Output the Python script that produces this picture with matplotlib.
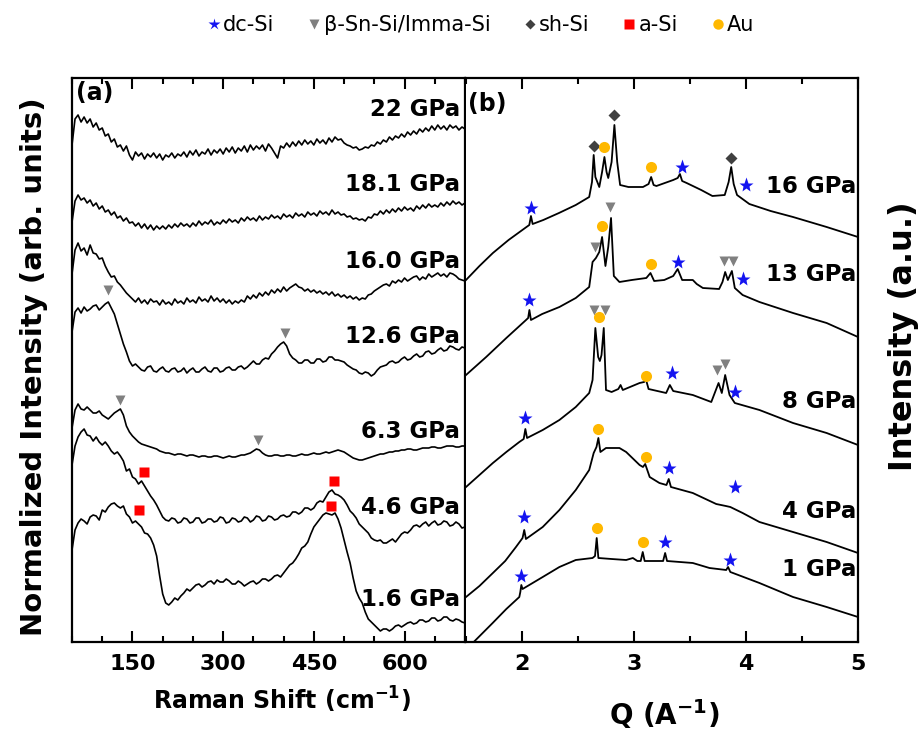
import numpy as np
import matplotlib
matplotlib.use("Agg")
import matplotlib.pyplot as plt
from matplotlib.lines import Line2D
from matplotlib.ticker import MultipleLocator

plt.rcParams["font.family"] = ["DejaVu Sans"]
plt.rcParams["font.weight"] = "bold"
plt.rcParams["axes.labelweight"] = "bold"
plt.rcParams["mathtext.default"] = "bf"

# ---------------- (a) Raman spectra (offset, arb. units) ----------------
raman_shift = np.arange(50, 701, 5)

raman_22_0 = [497, 523, 527, 520, 525, 519, 523, 515, 519, 512,
              514, 506, 508, 500, 503, 495, 497, 491, 496, 487,
              482, 490, 486, 489, 483, 488, 485, 489, 484, 488,
              482, 487, 485, 489, 484, 488, 486, 490, 485, 491,
              487, 492, 486, 490, 488, 493, 487, 492, 489, 493,
              488, 494, 490, 495, 489, 494, 491, 496, 490, 497,
              492, 496, 493, 497, 491, 498, 494, 489, 484, 496,
              494, 499, 495, 500, 496, 501, 497, 502, 498, 501,
              497, 503, 499, 502, 498, 504, 500, 505, 502, 503,
              499, 497, 496, 494, 495, 492, 493, 495, 494, 497,
              496, 500, 498, 502, 500, 505, 502, 506, 504, 508,
              505, 510, 507, 511, 508, 513, 510, 514, 511, 516,
              512, 517, 513, 516, 512, 517, 514, 516, 512, 515,
              513]
raman_18_1 = [420, 441, 447, 442, 444, 439, 442, 436, 439, 433,
              436, 430, 432, 427, 430, 424, 426, 421, 424, 419,
              420, 416, 419, 414, 418, 413, 417, 412, 416, 413,
              416, 413, 417, 414, 418, 415, 419, 416, 418, 415,
              419, 416, 421, 417, 420, 418, 422, 417, 420, 418,
              422, 419, 423, 420, 422, 419, 424, 421, 425, 422,
              424, 421, 426, 422, 425, 423, 427, 424, 426, 423,
              428, 425, 427, 424, 429, 426, 428, 425, 430, 427,
              429, 426, 431, 428, 430, 427, 432, 428, 430, 427,
              428, 425, 426, 423, 424, 422, 423, 421, 425, 424,
              428, 427, 431, 428, 432, 429, 433, 430, 434, 431,
              435, 432, 434, 431, 436, 433, 437, 434, 438, 435,
              437, 435, 439, 436, 440, 437, 441, 438, 440, 437,
              439]
raman_16_0 = [368, 392, 399, 391, 394, 387, 397, 389, 388, 383,
              384, 376, 370, 365, 366, 360, 357, 353, 349, 346,
              343, 340, 344, 339, 342, 338, 343, 340, 341, 337,
              342, 338, 340, 337, 343, 339, 341, 338, 344, 340,
              342, 339, 345, 341, 343, 340, 346, 341, 344, 340,
              343, 339, 342, 338, 341, 339, 342, 340, 346, 343,
              347, 344, 349, 346, 350, 347, 352, 349, 353, 350,
              355, 351, 354, 356, 358, 355, 354, 351, 353, 350,
              352, 349, 351, 348, 350, 347, 350, 346, 348, 345,
              347, 344, 346, 343, 345, 342, 344, 343, 347, 348,
              351, 353, 355, 357, 358, 356, 361, 359, 362, 360,
              364, 361, 363, 365, 366, 362, 365, 363, 368, 365,
              367, 369, 366, 368, 365, 369, 368, 366, 363, 362,
              361]
raman_12_6 = [310, 330, 334, 329, 335, 331, 333, 336, 337, 332,
              335, 338, 340, 334, 328, 318, 308, 298, 290, 281,
              276, 278, 275, 272, 271, 275, 276, 271, 270, 273,
              275, 271, 270, 273, 274, 270, 271, 274, 269, 272,
              274, 270, 270, 273, 275, 271, 270, 274, 274, 270,
              271, 274, 275, 272, 272, 275, 276, 273, 275, 278,
              281, 278, 278, 282, 284, 283, 288, 291, 295, 298,
              300, 296, 288, 284, 282, 279, 279, 282, 282, 279,
              279, 283, 283, 280, 281, 285, 285, 282, 282, 281,
              280, 277, 275, 273, 272, 269, 268, 270, 269, 266,
              268, 272, 275, 276, 277, 280, 281, 279, 280, 283,
              285, 282, 283, 286, 288, 285, 286, 290, 291, 288,
              289, 292, 294, 291, 292, 296, 295, 293, 292, 295,
              294]
raman_6_3 = [214, 232, 238, 233, 232, 235, 232, 229, 229, 231,
             227, 225, 223, 226, 229, 231, 233, 227, 216, 210,
             206, 203, 200, 198, 197, 196, 195, 194, 193, 191,
             190, 189, 189, 188, 187, 188, 188, 187, 186, 187,
             187, 186, 185, 186, 186, 185, 185, 186, 186, 185,
             184, 185, 186, 185, 185, 186, 187, 187, 188, 189,
             191, 193, 192, 189, 187, 186, 186, 187, 187, 186,
             186, 187, 187, 186, 186, 187, 188, 187, 187, 188,
             189, 188, 188, 189, 190, 189, 190, 191, 192, 191,
             190, 188, 186, 184, 183, 182, 182, 183, 184, 185,
             186, 187, 188, 188, 189, 190, 190, 191, 191, 192,
             192, 193, 193, 192, 192, 193, 194, 194, 194, 195,
             195, 194, 194, 195, 196, 196, 196, 195, 195, 196,
             196]
raman_4_6 = [177, 196, 205, 210, 213, 207, 206, 201, 205, 200,
             197, 200, 196, 191, 188, 190, 186, 181, 171, 173,
             165, 163, 158, 161, 156, 151, 146, 142, 137, 131,
             125, 122, 121, 124, 123, 119, 120, 124, 123, 119,
             120, 124, 124, 119, 120, 123, 123, 120, 121, 125,
             124, 119, 120, 124, 123, 120, 121, 125, 124, 120,
             122, 126, 125, 121, 122, 126, 125, 122, 123, 126,
             127, 125, 126, 130, 130, 128, 130, 134, 134, 132,
             134, 139, 141, 140, 145, 150, 152, 148, 147, 145,
             142, 137, 131, 128, 124, 118, 115, 112, 109, 104,
             102, 101, 102, 99, 99, 101, 103, 100, 104, 108,
             110, 109, 112, 116, 117, 115, 118, 120, 116, 119,
             121, 117, 118, 121, 120, 116, 117, 120, 118, 114,
             115]
raman_1_6 = [92, 112, 119, 123, 121, 118, 125, 127, 126, 122,
             132, 130, 135, 138, 139, 136, 134, 136, 128, 125,
             119, 121, 118, 115, 109, 108, 104, 97, 86, 66,
             48, 39, 37, 40, 44, 42, 46, 49, 53, 51,
             54, 57, 58, 55, 57, 60, 61, 58, 62, 60,
             60, 63, 61, 58, 58, 61, 59, 56, 58, 60,
             61, 58, 60, 63, 63, 61, 63, 66, 67, 65,
             69, 73, 77, 79, 83, 88, 94, 96, 100, 108,
             115, 119, 123, 127, 129, 128, 127, 129, 123, 114,
             102, 90, 79, 64, 51, 44, 39, 30, 23, 20,
             17, 14, 11, 13, 13, 11, 13, 16, 17, 15,
             17, 19, 20, 18, 19, 22, 22, 20, 21, 24,
             24, 21, 22, 25, 25, 22, 21, 23, 22, 20,
             19]

raman_spectra = [raman_22_0, raman_18_1, raman_16_0, raman_12_6, raman_6_3, raman_4_6, raman_1_6]
raman_labels = ["22 GPa", "18.1 GPa", "16.0 GPa", "12.6 GPa", "6.3 GPa", "4.6 GPa", "1.6 GPa"]
raman_label_y = [532, 457, 380, 305, 210, 135, 42]

raman_bsn_x = [109, 403, 130, 357]
raman_bsn_y = [352, 309, 242, 202]
raman_asi_x = [169, 161, 484, 478]
raman_asi_y = [170, 132, 161, 136]

# ---------------- (b) XRD patterns (offset, a.u.) ----------------
q_16 = [1.50, 1.62, 1.74, 1.88, 2.04, 2.065, 2.08, 2.095, 2.19, 2.33, 2.48, 2.60, 2.625, 2.64,
        2.655, 2.69, 2.715, 2.736, 2.755, 2.77, 2.80, 2.825, 2.85, 2.876, 2.95, 3.08, 3.13,
        3.153, 3.175, 3.20, 3.35, 3.39, 3.41, 3.43, 3.47, 3.60, 3.70, 3.81, 3.845, 3.868,
        3.89, 3.92, 4.03, 4.22, 4.42, 4.72, 5.0]
i_16 = [362, 376, 389, 402, 415, 417, 426, 418, 422, 429, 437, 445, 460, 487,
        465, 455, 470, 485, 470, 464, 480, 517, 480, 457, 455, 455, 458,
        465, 457, 456, 462, 464, 468, 461, 459, 452, 446, 447, 460, 475,
        458, 447, 438, 431, 425, 415, 405]

q_13 = [1.50, 1.68, 1.86, 2.036, 2.055, 2.066, 2.08, 2.18, 2.334, 2.48, 2.60, 2.63, 2.66, 2.69,
        2.715, 2.745, 2.77, 2.795, 2.82, 2.87, 2.98, 3.11, 3.147, 3.18, 3.27, 3.35, 3.39, 3.43,
        3.525, 3.56, 3.615, 3.76, 3.79, 3.814, 3.838, 3.874, 3.90, 3.97, 4.12, 4.42, 4.72, 5.0]
i_13 = [267, 285, 304, 322, 324, 332, 322, 328, 335, 344, 355, 380, 384, 390,
        405, 376, 395, 424, 366, 360, 362, 364, 369, 361, 362, 366, 373, 362,
        362, 358, 354, 353, 360, 370, 362, 371, 354, 347, 340, 329, 319, 305]

q_8 = [1.50, 1.62, 1.74, 1.86, 1.976, 2.015, 2.03, 2.045, 2.185, 2.334, 2.48, 2.60, 2.63, 2.655,
       2.68, 2.695, 2.71, 2.73, 2.75, 2.80, 2.86, 2.88, 2.90, 3.05, 3.09, 3.108, 3.13, 3.287,
       3.32, 3.35, 3.525, 3.69, 3.755, 3.784, 3.814, 3.853, 3.90, 4.12, 4.42, 4.72, 5.0]
i_8 = [155, 167, 179, 190, 200, 203, 213, 204, 212, 222, 235, 249, 262, 314,
       285, 281, 287, 314, 252, 250, 253, 257, 252, 259, 260, 262, 253, 249,
       257, 251, 247, 240, 259, 249, 267, 247, 239, 232, 219, 209, 197]

q_4 = [1.50, 1.62, 1.74, 1.85, 1.946, 2.005, 2.02, 2.035, 2.185, 2.334, 2.48, 2.60, 2.64, 2.665,
       2.682, 2.70, 2.75, 2.87, 2.93, 3.05, 3.08, 3.10, 3.14, 3.227, 3.29, 3.31, 3.33, 3.525,
       3.734, 3.82, 3.86, 3.97, 4.12, 4.42, 4.72, 5.0]
i_4 = [45, 56, 69, 81, 95, 104, 112, 103, 115, 132, 152, 172, 189, 195,
       204, 190, 194, 194, 190, 177, 175, 178, 165, 159, 157, 163, 155, 149,
       138, 136, 135, 129, 120, 110, 100, 89]

q_1 = [1.56, 1.738, 1.86, 1.976, 1.985, 1.994, 2.005, 2.185, 2.334, 2.48, 2.63, 2.652, 2.667,
       2.682, 2.80, 2.93, 2.99, 3.03, 3.06, 3.078, 3.095, 3.26, 3.278, 3.295, 3.525, 3.674,
       3.823, 3.84, 3.86, 4.12, 4.42, 4.72, 5.0]
i_1 = [-1, 19, 33, 45, 50, 57, 53, 65, 75, 82, 84, 86, 104,
       84, 83, 82, 84, 81, 81, 90, 81, 81, 89, 81, 79, 74,
       72, 75, 70, 59, 45, 35, 25]

xrd_q = [q_16, q_13, q_8, q_4, q_1]
xrd_i = [i_16, i_13, i_8, i_4, i_1]
xrd_labels = ["16 GPa", "13 GPa", "8 GPa", "4 GPa", "1 GPa"]
xrd_label_y = [455, 367, 240, 130, 72]

dc_q = [2.08, 3.43, 3.996, 2.066, 3.39, 3.97, 2.03, 3.34, 3.906, 2.02, 3.31, 3.898, 1.994, 3.278, 3.853]
dc_y = [434, 475, 457, 342, 380, 363, 224, 269, 250, 125, 174, 155, 66, 100, 82]
bsn_q = [2.652, 2.79, 3.808, 3.883, 2.64, 2.745, 3.74, 3.814]
bsn_y = [395, 435, 381, 381, 332, 332, 272, 278]
sh_q = [2.64, 2.825, 3.868]
sh_y = [496, 527, 484]
au_q = [2.736, 3.153, 2.715, 3.153, 2.69, 3.108, 2.682, 3.108, 2.67, 3.078]
au_y = [495, 475, 416, 378, 325, 266, 213, 185, 114, 100]

# ---------------- styles ----------------
c_dc, c_bsn, c_sh, c_asi, c_au = "#1414F0", "#808080", "#404040", "#FF0000", "#FFB800"
ms_star, ms_tri, ms_dia, ms_sq, ms_circ = 11, 7, 6, 7, 8

fig = plt.figure(figsize=(9.18, 7.31), dpi=100)
axL = fig.add_axes([72 / 918, 1 - 642 / 731, 393 / 918, 564 / 731])
axR = fig.add_axes([466 / 918, 1 - 642 / 731, 392 / 918, 564 / 731])

for ax in (axL, axR):
    ax.set_ylim(0, 564)
    ax.set_yticks([])
    for s in ax.spines.values():
        s.set_linewidth(1.6)
    ax.tick_params(which="both", direction="in", top=True, bottom=True,
                   left=False, right=False, width=1.5, labelsize=16, pad=9)
    ax.tick_params(which="major", length=8)
    ax.tick_params(which="minor", length=4.5)
axR.spines["left"].set_visible(False)

# (a)
axL.set_xlim(50, 700)
axL.xaxis.set_major_locator(MultipleLocator(150))
axL.xaxis.set_minor_locator(MultipleLocator(50))
axL.set_xticks([150, 300, 450, 600])
for y, lab, ly in zip(raman_spectra, raman_labels, raman_label_y):
    axL.plot(raman_shift, y, color="black", lw=1.2)
    axL.text(692, ly, lab, ha="right", va="center", fontsize=16.5, fontweight="bold")
axL.plot(raman_bsn_x, raman_bsn_y, ls="none", marker="v", ms=ms_tri, color=c_bsn, mec="none")
axL.plot(raman_asi_x, raman_asi_y, ls="none", marker="s", ms=ms_sq, color=c_asi, mec="none")
axL.text(0.01, 0.995, "(a)", transform=axL.transAxes, ha="left", va="top", fontsize=17)
axL.set_xlabel("Raman Shift (cm$^{-1}$)", fontsize=17, fontweight="bold")
axL.xaxis.set_label_coords(0.534, -0.076)
axL.set_ylabel("Normalized Intensity (arb. units)", fontsize=21, fontweight="bold")
axL.yaxis.set_label_coords(-0.062, 0.489)

# (b)
axR.set_xlim(1.5, 5.0)
axR.xaxis.set_major_locator(MultipleLocator(1))
axR.xaxis.set_minor_locator(MultipleLocator(0.5))
axR.set_xticks([2, 3, 4, 5])
for q, y, lab, ly in zip(xrd_q, xrd_i, xrd_labels, xrd_label_y):
    axR.plot(q, y, color="black", lw=1.3)
    axR.text(4.985, ly, lab, ha="right", va="center", fontsize=16.5, fontweight="bold")
axR.plot(dc_q, dc_y, ls="none", marker="*", ms=ms_star, color=c_dc, mec="none")
axR.plot(bsn_q, bsn_y, ls="none", marker="v", ms=ms_tri, color=c_bsn, mec="none")
axR.plot(sh_q, sh_y, ls="none", marker="D", ms=ms_dia, color=c_sh, mec="none")
axR.plot(au_q, au_y, ls="none", marker="o", ms=ms_circ, color=c_au, mec="none")
axR.text(0.005, 0.975, "(b)", transform=axR.transAxes, ha="left", va="top", fontsize=17)
axR.set_xlabel("Q (A$^{-1}$)", fontsize=20, fontweight="bold")
axR.xaxis.set_label_coords(0.505, -0.097)
axR.yaxis.set_label_position("right")
axR.set_ylabel("Intensity (a.u.)", fontsize=23, fontweight="bold", rotation=90)
axR.yaxis.set_label_coords(1.077, 0.543)

# legend
handles = [
    Line2D([], [], ls="none", marker="*", ms=9, color=c_dc, mec="none"),
    Line2D([], [], ls="none", marker="v", ms=7, color=c_bsn, mec="none"),
    Line2D([], [], ls="none", marker="D", ms=5, color=c_sh, mec="none"),
    Line2D([], [], ls="none", marker="s", ms=6.5, color=c_asi, mec="none"),
    Line2D([], [], ls="none", marker="o", ms=7.5, color=c_au, mec="none"),
]
names = ["dc-Si", "β-Sn-Si/Imma-Si", "sh-Si", "a-Si", "Au"]
fig.legend(handles, names, loc="center", bbox_to_anchor=(0.524, 0.966), ncol=5,
           frameon=False, handlelength=0.6, handletextpad=0.15, columnspacing=1.6,
           prop={"size": 15, "weight": "normal"})

fig.savefig("out.png", dpi=100)
